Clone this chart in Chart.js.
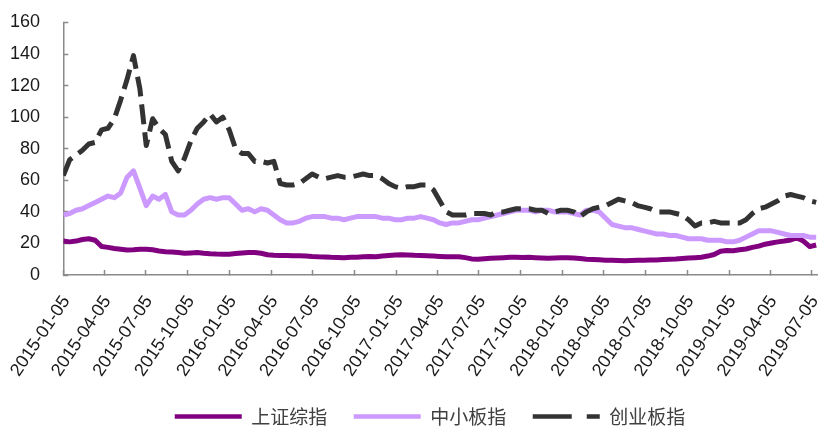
<!DOCTYPE html>
<html>
<head>
<meta charset="utf-8">
<script src="https://cdn.jsdelivr.net/npm/chart.js@4/dist/chart.umd.min.js"></script>
<style>
  html, body { margin: 0; padding: 0; background: #fff; }
  #wrap { width: 818px; height: 426px; }
</style>
</head>
<body>
<div id="wrap"><canvas id="c"></canvas></div>
<script>
// Sample dates (every two weeks)
const dates = [
  '2015-01-05','2015-01-19','2015-02-02','2015-02-16','2015-03-02','2015-03-16','2015-03-30','2015-04-13','2015-04-27','2015-05-11',
  '2015-05-25','2015-06-08','2015-06-22','2015-07-06','2015-07-20','2015-08-03','2015-08-17','2015-08-31','2015-09-14','2015-09-28',
  '2015-10-12','2015-10-26','2015-11-09','2015-11-23','2015-12-07','2015-12-21','2016-01-04','2016-01-18','2016-02-01','2016-02-15',
  '2016-02-29','2016-03-14','2016-03-28','2016-04-11','2016-04-25','2016-05-09','2016-05-23','2016-06-06','2016-06-20','2016-07-04',
  '2016-07-18','2016-08-01','2016-08-15','2016-08-29','2016-09-12','2016-09-26','2016-10-10','2016-10-24','2016-11-07','2016-11-21',
  '2016-12-05','2016-12-19','2017-01-02','2017-01-16','2017-01-30','2017-02-13','2017-02-27','2017-03-13','2017-03-27','2017-04-10',
  '2017-04-24','2017-05-08','2017-05-22','2017-06-05','2017-06-19','2017-07-03','2017-07-17','2017-07-31','2017-08-14','2017-08-28',
  '2017-09-11','2017-09-25','2017-10-09','2017-10-23','2017-11-06','2017-11-20','2017-12-04','2017-12-18','2018-01-01','2018-01-15',
  '2018-01-29','2018-02-12','2018-02-26','2018-03-12','2018-03-26','2018-04-09','2018-04-23','2018-05-07','2018-05-21','2018-06-04',
  '2018-06-18','2018-07-02','2018-07-16','2018-07-30','2018-08-13','2018-08-27','2018-09-10','2018-09-24','2018-10-08','2018-10-22',
  '2018-11-05','2018-11-19','2018-12-03','2018-12-17','2018-12-31','2019-01-14','2019-01-28','2019-02-11','2019-02-25','2019-03-11',
  '2019-03-25','2019-04-08','2019-04-22','2019-05-06','2019-05-20','2019-06-03','2019-06-17','2019-07-01','2019-07-15'
];

// 上证综指
const shComposite = [
  21.5,21,21.5,22.5,23,22,18,17.5,16.8,16.3,
  15.8,16,16.3,16.3,16,15.2,14.8,14.5,14.2,13.8,
  14,14.2,13.8,13.5,13.3,13.2,13.2,13.6,14,14.3,
  14.2,13.8,12.8,12.5,12.3,12.3,12.2,12.2,12,11.7,
  11.5,11.4,11.2,11.1,11,11.2,11.3,11.5,11.7,11.6,
  12,12.3,12.6,12.8,12.7,12.5,12.4,12.2,12,11.8,
  11.6,11.6,11.5,11,10.2,10,10.3,10.6,10.8,11,
  11.2,11.2,11.1,11.2,11,10.8,10.6,10.8,11,11,
  10.7,10.4,10,9.8,9.6,9.4,9.3,9.2,9.1,9.2,
  9.3,9.4,9.5,9.5,9.8,10,10.2,10.5,10.8,11,
  11.2,12,13,15,15.5,15.4,16,16.5,17.5,18.3,
  19.5,20.3,21,21.5,22.2,23.5,21.5,18,19
];

// 中小板指
const smeBoard = [
  38,39,41,42,44,46,48,50,49,52,
  62,66,55,44,50,48,51,40,38,38,
  41,45,48,49,48,49,49,45,41,42,
  40,42,41,38,35,33,33,34,36,37,
  37,37,36,36,35,36,37,37,37,37,
  36,36,35,35,36,36,37,36,35,33,
  32,33,33,34,35,35,36,37,38,39,
  40,41,41,41,40,41,41,40,40,40,
  39,38,41,41,40,36,32,31,30,30,
  29,28,27,26,26,25,25,24,23,23,
  23,22,22,22,21,21,22,24,26,28,
  28,28,27,26,25,25,25,24,24
];

// 创业板指
const chinext = [
  63,73,76,79,83,84,92,93,99,111,
  124,139,118,82,99,93,89,72,66,74,
  85,93,97,102,97,100,92,80,77,77,
  72,72,71,72,58,57,57,58,61,64,
  62,61,62,63,62,62,63,64,63,63,
  61,58,56,55,56,56,57,57,54,47,
  40,38,38,38,39,39,39,38,40,40,
  41,42,42,42,41,41,39,40,41,41,
  40,37,40,42,43,44,46,48,47,46,
  44,43,42,40,40,40,39,38,35,31,
  33,33,34,33,33,33,33,35,39,42,
  43,45,47,50,51,50,49,47,46
];

// Quarterly axis labels
const tickLabels = [
  '2015-01-05','2015-04-05','2015-07-05','2015-10-05','2016-01-05','2016-04-05','2016-07-05',
  '2016-10-05','2017-01-05','2017-04-05','2017-07-05','2017-10-05','2018-01-05','2018-04-05',
  '2018-07-05','2018-10-05','2019-01-05','2019-04-05','2019-07-05'
];

const seriesNames = ['上证综指', '中小板指', '创业板指'];
const yTicks = { min: 0, max: 160, step: 20 };

// Dates -> day count from the first label, so the x axis is a plain linear scale
const DAY = 86400000;
const origin = Date.parse(tickLabels[0] + 'T00:00:00Z');
const toDay = s => (Date.parse(s + 'T00:00:00Z') - origin) / DAY;
const tickDays = tickLabels.map(toDay);
const xMax = toDay('2019-07-19');

const toPoints = vals => vals.map((v, i) => ({ x: toDay(dates[i]), y: v }));

const axisGray = '#8a8a8a';
const tickFont = { family: "'Liberation Sans', Arial, sans-serif", size: 18 };

// Nudge the legend row to the right of the canvas centre
const legendShift = {
  id: 'legendShift',
  afterLayout(chart) {
    const lg = chart.legend;
    if (lg) { lg.left += 42; }
  }
};

new Chart(document.getElementById('c'), {
  type: 'line',
  data: {
    datasets: [
      { label: seriesNames[0], data: toPoints(shComposite), borderColor: '#800080', backgroundColor: '#800080',
        borderWidth: 5, order: 3 },
      { label: seriesNames[1], data: toPoints(smeBoard), borderColor: '#cc99ff', backgroundColor: '#cc99ff',
        borderWidth: 5, order: 2 },
      { label: seriesNames[2], data: toPoints(chinext), borderColor: '#333333', backgroundColor: '#333333',
        borderWidth: 5, borderDash: [20, 8], order: 1 }
    ]
  },
  plugins: [legendShift],
  options: {
    responsive: true,
    maintainAspectRatio: false,
    devicePixelRatio: 1,
    animation: false,
    layout: { padding: { left: 0, right: 0, top: 22.5, bottom: -10 } },
    elements: {
      point: { radius: 0, hoverRadius: 0 },
      line: { tension: 0, borderJoinStyle: 'round', borderCapStyle: 'butt', fill: false }
    },
    plugins: {
      tooltip: { enabled: false },
      legend: {
        position: 'bottom',
        labels: {
          usePointStyle: true,
          pointStyle: 'line',
          pointStyleWidth: 67,
          padding: 26.5,
          color: '#404040',
          font: { family: "'Noto Sans CJK SC', sans-serif", size: 19 },
          sort: (a, b) => a.datasetIndex - b.datasetIndex,
          generateLabels(chart) {
            const items = Chart.defaults.plugins.legend.labels.generateLabels(chart);
            items.forEach(it => { it.lineWidth = 4.5; if (it.datasetIndex === 2) it.lineDash = [39, 15]; });
            return items;
          }
        }
      }
    },
    scales: {
      x: {
        type: 'linear',
        min: 0,
        max: xMax,
        afterBuildTicks: axis => { axis.ticks = tickDays.map(v => ({ value: v })); },
        afterFit: axis => { axis.height = 105.5; axis.paddingLeft = 0; axis.paddingRight = 0; },
        border: { color: axisGray, width: 1.5 },
        grid: { drawOnChartArea: false, tickLength: -5, tickColor: axisGray, tickWidth: 1.5 },
        ticks: {
          autoSkip: false,
          minRotation: 56,
          maxRotation: 56,
          padding: 22,
          labelOffset: 3,
          color: '#1a1a1a',
          font: tickFont,
          callback: (v, i) => tickLabels[i]
        }
      },
      y: {
        min: yTicks.min,
        max: yTicks.max,
        afterFit: axis => { axis.width = 63.3; axis.paddingTop = 0; axis.paddingBottom = 0; },
        border: { color: axisGray, width: 1.5 },
        grid: { drawOnChartArea: false, tickLength: -5, tickColor: axisGray, tickWidth: 1.5 },
        ticks: { stepSize: yTicks.step, padding: 28.3, color: '#1a1a1a', font: tickFont }
      }
    }
  }
});
</script>
</body>
</html>
